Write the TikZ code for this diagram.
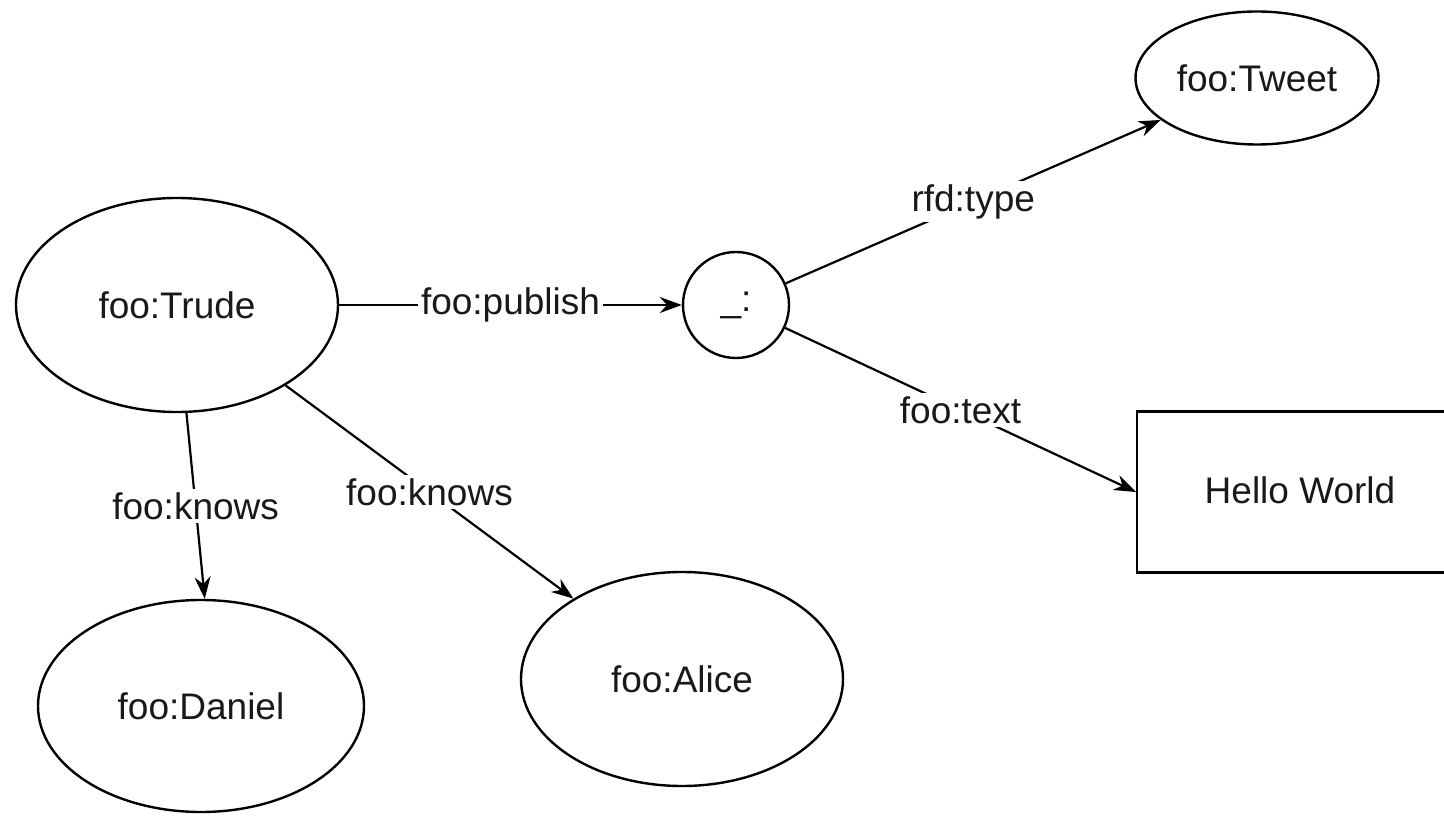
\documentclass[tikz,border=0pt]{standalone}
\usepackage{fontspec}
\setmainfont{Liberation Sans}
\usetikzlibrary{shapes.geometric,arrows.meta}
\begin{document}
\begin{tikzpicture}[x=0.5pt,y=-0.5pt,
  every node/.style={font=\fontsize{18.5pt}{22pt}\selectfont, text=black!90},
  oval/.style={draw, ellipse, line width=1.2pt, inner sep=0pt},
  rectbox/.style={draw, rectangle, line width=1.2pt, inner sep=0pt},
  edge/.style={line width=1.1pt, -{Stealth[length=11pt,width=8pt]}},
  lbl/.style={fill=white, inner sep=1.5pt}]
\useasboundingbox (0,0) rectangle (1444,817);
\clip (0,0) rectangle (1444,817);
\node[oval, minimum width=161pt, minimum height=107pt] (trude) at (177,305) {foo:Trude};
\node[oval, circle, minimum size=53pt] (blank) at (736,305) {\_:};
\node[oval, minimum width=121.5pt, minimum height=66.5pt] (tweet) at (1257,78) {foo:Tweet};
\node[rectbox, minimum width=166pt, minimum height=80.5pt, anchor=west] (hello) at (1136,492) {};
\node at (1300,490) {Hello World};
\node[oval, minimum width=163pt, minimum height=106pt] (daniel) at (201,706) {foo:Daniel};
\node[oval, minimum width=161pt, minimum height=107pt] (alice) at (682,679) {foo:Alice};
\draw[edge] (trude) -- node[lbl] {foo:publish} (blank);
\draw[edge] (blank) -- node[lbl] {rfd:type} (tweet);
\draw[edge] (blank.-25) -- node[lbl] {foo:text} (hello.west);
\draw[edge] (trude.-85) -- node[lbl] {foo:knows} (daniel.88);
\draw[edge] (trude) -- node[lbl] {foo:knows} (alice);
\end{tikzpicture}
\end{document}
